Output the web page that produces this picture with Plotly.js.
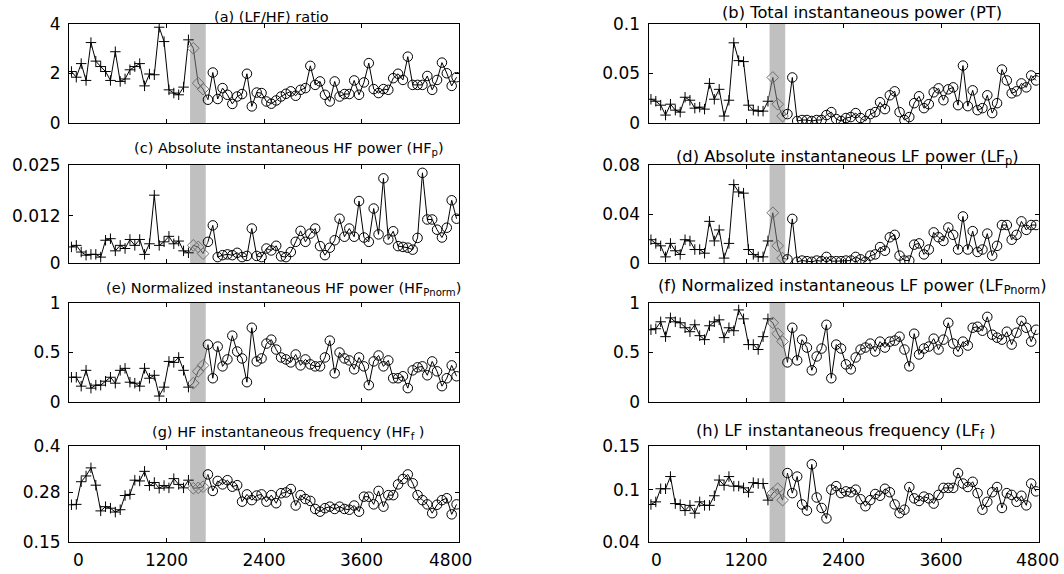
<!DOCTYPE html>
<html><head><meta charset="utf-8">
<script src="https://cdn.plot.ly/plotly-3.0.1.min.js"></script>
<style>html,body{margin:0;padding:0;background:#fff}#chart{width:1064px;height:574px}</style>
</head><body><div id="chart"></div><script>
// ---- sample times (s) ----
const timePre  = [30,90,150,210,270,330,390,450,510,570,630,690,750,810,870,930,990,1050,1110,1170,1230,1290,1350,1410,1470];
const timeMid  = [1530,1590,1650];
const timePost = [1710,1770,1830,1890,1950,2010,2070,2130,2190,2250,2310,2370,2430,2490,2550,2610,2670,2730,2790,2850,2910,2970,3030,3090,3150,3210,3270,3330,3390,3450,3510,3570,3630,3690,3750,3810,3870,3930,3990,4050,4110,4170,4230,4290,4350,4410,4470,4530,4590,4650,4710,4770];
const bandRange = [1490, 1683];
const xTickVals = [1200, 2400, 3600];
const xTickText = ['1200', '2400', '3600'];

// (a) LF/HF ratio
const ratioPre  = [2.08,1.85,2.4,1.72,3.25,2.5,2.28,2.08,1.72,2.88,1.68,1.78,2.15,2.28,2.4,1.5,1.98,1.95,3.87,3.29,1.34,1.21,1.14,1.45,3.36];
const ratioMid  = [3.02,1.61,1.37];
const ratioPost = [0.94,2.04,0.97,1.41,1.14,0.77,1.07,1.17,1.99,0.67,1.23,1.21,0.87,0.78,0.91,1.07,1.18,1.28,1.1,1.34,1.41,2.31,1.54,1.68,1.14,0.87,1.68,1.07,1.17,1.17,1.72,1.14,1.64,2.42,1.37,1.21,1.37,1.34,1.81,1.99,1.74,2.68,1.54,1.54,1.54,1.9,1.34,1.74,2.44,2.01,1.5,1.85];
// (b) total power
const ptPre  = [0.024,0.022,0.018,0.008,0.019,0.013,0.011,0.026,0.023,0.015,0.016,0.014,0.040,0.024,0.034,0.007,0.023,0.081,0.063,0.062,0.018,0.013,0.012,0.012,0.022];
const ptMid  = [0.046,0.019,0.007];
const ptPost = [0.009,0.046,0.002,0.003,0.003,0.002,0.003,0.003,0.008,0.011,0.004,0.002,0.005,0.006,0.010,0.005,0.002,0.009,0.011,0.021,0.014,0.028,0.032,0.011,0.003,0.006,0.020,0.027,0.015,0.019,0.031,0.035,0.023,0.034,0.036,0.018,0.058,0.017,0.033,0.013,0.015,0.028,0.010,0.020,0.054,0.043,0.030,0.032,0.040,0.036,0.048,0.043];
// (c) HF power
const hfpPre  = [0.0041,0.0045,0.0028,0.002,0.0022,0.0022,0.0015,0.0058,0.0062,0.0031,0.0045,0.0037,0.006,0.0045,0.006,0.0022,0.0049,0.0173,0.0045,0.0054,0.0068,0.0049,0.0056,0.0031,0.0026];
const hfpMid  = [0.0045,0.0041,0.0024];
const hfpPost = [0.0054,0.0096,0.0015,0.002,0.0022,0.002,0.0026,0.0015,0.0018,0.0088,0.0018,0.0015,0.0037,0.0032,0.0044,0.0017,0.0015,0.0028,0.0054,0.0082,0.0054,0.0075,0.0088,0.0043,0.002,0.0039,0.0058,0.0113,0.0067,0.0088,0.0067,0.0158,0.0065,0.0054,0.0139,0.0073,0.0216,0.006,0.0081,0.0043,0.0041,0.0039,0.0034,0.0064,0.023,0.0111,0.0111,0.0085,0.0065,0.009,0.016,0.0113];
// (d) LF power
const lfpPre  = [0.019,0.016,0.014,0.005,0.016,0.01,0.007,0.019,0.018,0.011,0.011,0.008,0.034,0.018,0.027,0.004,0.016,0.064,0.058,0.057,0.011,0.007,0.005,0.005,0.018];
const lfpMid  = [0.041,0.014,0.004];
const lfpPost = [0.003,0.036,0.001,0.002,0.0015,0.001,0.002,0.0015,0.005,0.0015,0.0015,0.0015,0.002,0.002,0.005,0.003,0.001,0.006,0.007,0.013,0.01,0.021,0.023,0.006,0.002,0.002,0.015,0.016,0.007,0.011,0.025,0.021,0.018,0.029,0.023,0.011,0.038,0.011,0.026,0.009,0.011,0.024,0.006,0.014,0.031,0.031,0.019,0.023,0.034,0.027,0.031,0.031];
// (e) normalized HF power
const hfnPre  = [0.25,0.25,0.16,0.32,0.14,0.17,0.17,0.21,0.25,0.19,0.32,0.34,0.2,0.19,0.16,0.34,0.24,0.27,0.06,0.15,0.41,0.4,0.45,0.32,0.15];
const hfnMid  = [0.19,0.31,0.37];
const hfnPost = [0.58,0.24,0.56,0.36,0.43,0.67,0.51,0.44,0.2,0.75,0.41,0.44,0.59,0.63,0.53,0.45,0.43,0.4,0.48,0.37,0.43,0.38,0.36,0.36,0.45,0.62,0.29,0.5,0.44,0.42,0.33,0.45,0.36,0.17,0.41,0.47,0.36,0.42,0.24,0.24,0.26,0.14,0.32,0.35,0.36,0.27,0.41,0.31,0.16,0.24,0.37,0.26];
// (f) normalized LF power
const lfnPre  = [0.73,0.74,0.81,0.66,0.85,0.81,0.8,0.75,0.71,0.78,0.67,0.63,0.77,0.81,0.83,0.65,0.75,0.72,0.93,0.84,0.58,0.58,0.53,0.66,0.84];
const lfnMid  = [0.8,0.69,0.61];
const lfnPost = [0.40,0.75,0.42,0.63,0.55,0.32,0.46,0.54,0.78,0.24,0.58,0.54,0.38,0.33,0.45,0.53,0.55,0.59,0.51,0.61,0.55,0.61,0.62,0.66,0.53,0.36,0.69,0.48,0.54,0.56,0.64,0.53,0.63,0.8,0.59,0.51,0.61,0.57,0.75,0.76,0.72,0.86,0.68,0.65,0.63,0.71,0.58,0.7,0.82,0.75,0.61,0.73];
// (g) HF frequency
const hffPre  = [0.247,0.248,0.307,0.322,0.343,0.298,0.231,0.242,0.238,0.228,0.234,0.271,0.274,0.311,0.309,0.334,0.297,0.305,0.29,0.297,0.291,0.315,0.3,0.291,0.311];
const hffMid  = [0.29,0.291,0.294];
const hffPost = [0.326,0.283,0.309,0.3,0.311,0.294,0.298,0.255,0.274,0.259,0.271,0.274,0.255,0.272,0.251,0.277,0.279,0.288,0.245,0.272,0.262,0.257,0.236,0.229,0.238,0.242,0.236,0.242,0.236,0.234,0.245,0.229,0.268,0.268,0.248,0.283,0.242,0.272,0.272,0.3,0.314,0.326,0.303,0.272,0.259,0.248,0.225,0.247,0.259,0.264,0.222,0.248];
// (h) LF frequency
const lffPre  = [0.083,0.086,0.101,0.101,0.115,0.084,0.083,0.076,0.082,0.073,0.086,0.082,0.082,0.093,0.111,0.105,0.115,0.104,0.104,0.102,0.097,0.108,0.107,0.107,0.088];
const lffMid  = [0.096,0.101,0.088];
const lffPost = [0.119,0.096,0.115,0.083,0.076,0.129,0.091,0.079,0.067,0.100,0.104,0.096,0.098,0.097,0.100,0.089,0.081,0.088,0.095,0.093,0.101,0.097,0.083,0.073,0.077,0.103,0.090,0.087,0.092,0.090,0.084,0.094,0.102,0.102,0.102,0.119,0.107,0.103,0.109,0.096,0.077,0.086,0.097,0.103,0.079,0.096,0.094,0.086,0.093,0.082,0.107,0.098];

// y-axis ranges / ticks
const yRanges = [[0,4],[0,0.1],[0,0.025],[0,0.08],[0,1],[0,1],[0.15,0.4],[0.04,0.15]];
const yTickVals = [[0,2,4],[0,0.05,0.1],[0,0.012,0.025],[0,0.04,0.08],[0,0.5,1],[0,0.5,1],[0.15,0.28,0.4],[0.04,0.1,0.15]];
const yTickText = [['0','2','4'],['0','0.05','0.1'],['0','0.012','0.025'],['0','0.04','0.08'],['0','0.5','1'],['0','0.5','1'],['0.15','0.28','0.4'],['0.04','0.1','0.15']];
const titles = [
  '(a) (LF/HF) ratio',
  '(b) Total instantaneous power (PT)',
  '(c) Absolute instantaneous HF power (HF<sub>p</sub>)',
  '(d) Absolute instantaneous LF power (LF<sub>p</sub>)',
  '(e) Normalized instantaneous HF power (HF<sub>Pnorm</sub>)',
  '(f) Normalized instantaneous LF power (LF<sub>Pnorm</sub>)',
  '(g) HF instantaneous frequency (HF<sub>f</sub> )',
  '(h) LF instantaneous frequency (LF<sub>f</sub> )'
];

const series = [
  [ratioPre, ratioMid, ratioPost],
  [ptPre, ptMid, ptPost],
  [hfpPre, hfpMid, hfpPost],
  [lfpPre, lfpMid, lfpPost],
  [hfnPre, hfnMid, hfnPost],
  [lfnPre, lfnMid, lfnPost],
  [hffPre, hffMid, hffPost],
  [lffPre, lffMid, lffPost]
];

// layout geometry (pixels of the 1064x574 page)
const W = 1064, H = 574;
const colX = [[69,459],[648.5,1038.5]];
const rowY = [[24,123],[165,263],[303,402],[446,542]];
const titleX = [271,862,289,847,283,852,288,846];
const titleY = [16.5,12.5,149,157.5,289,286.5,432.5,431];
const titleSize = [14.5,16.3,14.5,16.3,14.5,16.3,14.5,16.3];

const FONT = 'DejaVu Sans, Liberation Sans, Arial, sans-serif';
const traces = [];
const layout = {
  width: W, height: H,
  margin: {l:0, r:0, t:0, b:0},
  paper_bgcolor: '#fff', plot_bgcolor: '#fff',
  showlegend: false,
  font: {family: FONT, color: '#000'},
  shapes: [], annotations: []
};

series.forEach((s, k) => {
  const suf = k === 0 ? '' : String(k + 1);
  const xa = 'x' + suf, ya = 'y' + suf;
  const row = Math.floor(k / 2), col = k % 2;
  const [pre, mid, post] = s;
  const bottom = row === 3;
  traces.push({x: timePre, y: pre, xaxis: xa, yaxis: ya, type: 'scatter', mode: 'lines+markers',
    line: {color: '#000', width: 1},
    marker: {symbol: 'cross-thin-open', size: 7.5, line: {color: '#000', width: 1}}});
  traces.push({x: [timePre[timePre.length-1], ...timeMid, timePost[0]],
    y: [pre[pre.length-1], ...mid, post[0]], xaxis: xa, yaxis: ya, type: 'scatter', mode: 'lines',
    line: {color: '#4a4a4a', width: 1}});
  traces.push({x: timeMid, y: mid, xaxis: xa, yaxis: ya, type: 'scatter', mode: 'markers',
    marker: {symbol: 'diamond-open', size: 9, color: '#6e6e6e', line: {color: '#6e6e6e', width: 1}}});
  traces.push({x: timePost, y: post, xaxis: xa, yaxis: ya, type: 'scatter', mode: 'lines+markers',
    line: {color: '#000', width: 1},
    marker: {symbol: 'circle-open', size: 9.5, color: '#000', line: {color: '#000', width: 1}}});

  layout['xaxis' + suf] = {
    domain: [colX[col][0] / W, colX[col][1] / W],
    anchor: ya, range: [0, 4800], fixedrange: true,
    tickvals: xTickVals, ticktext: xTickText,
    ticks: 'inside', ticklen: 4, tickcolor: '#000', tickwidth: 1,
    showline: true, linecolor: '#000', linewidth: 1, mirror: 'ticks',
    showgrid: false, zeroline: false,
    showticklabels: bottom,
    tickfont: {family: FONT, size: 17, color: '#000'},
    ticklabelstandoff: 3
  };
  layout['yaxis' + suf] = {
    domain: [1 - rowY[row][1] / H, 1 - rowY[row][0] / H],
    anchor: xa, range: yRanges[k], fixedrange: true,
    tickvals: yTickVals[k], ticktext: yTickText[k],
    ticks: 'inside', ticklen: 4, tickcolor: '#000', tickwidth: 1,
    showline: true, linecolor: '#000', linewidth: 1, mirror: 'ticks',
    showgrid: false, zeroline: false,
    tickfont: {family: FONT, size: 17, color: '#000'},
    ticklabelstandoff: 4
  };
  layout.shapes.push({type: 'rect', xref: xa, yref: ya + ' domain', x0: bandRange[0], x1: bandRange[1],
    y0: 0, y1: 1, fillcolor: '#c0c0c0', line: {width: 0}, layer: 'below'});
  layout.annotations.push({text: titles[k], xref: 'paper', yref: 'paper',
    x: titleX[k] / W, y: 1 - titleY[k] / H, xanchor: 'center', yanchor: 'middle',
    showarrow: false, font: {family: FONT, size: titleSize[k], color: '#000'}});
  if (bottom) {
    const lab0 = col === 0 ? 78 : 656;
    const lab1 = col === 0 ? 450 : 1037;
    [[lab0, '0'], [lab1, '4800']].forEach(([px, t]) => {
      layout.annotations.push({text: t, xref: 'paper', yref: 'paper', x: px / W, y: 1 - 560 / H,
        xanchor: 'center', yanchor: 'middle', showarrow: false,
        font: {family: FONT, size: 17, color: '#000'}});
    });
  }
});

Plotly.newPlot('chart', traces, layout, {displayModeBar: false, staticPlot: true});
</script></body></html>
